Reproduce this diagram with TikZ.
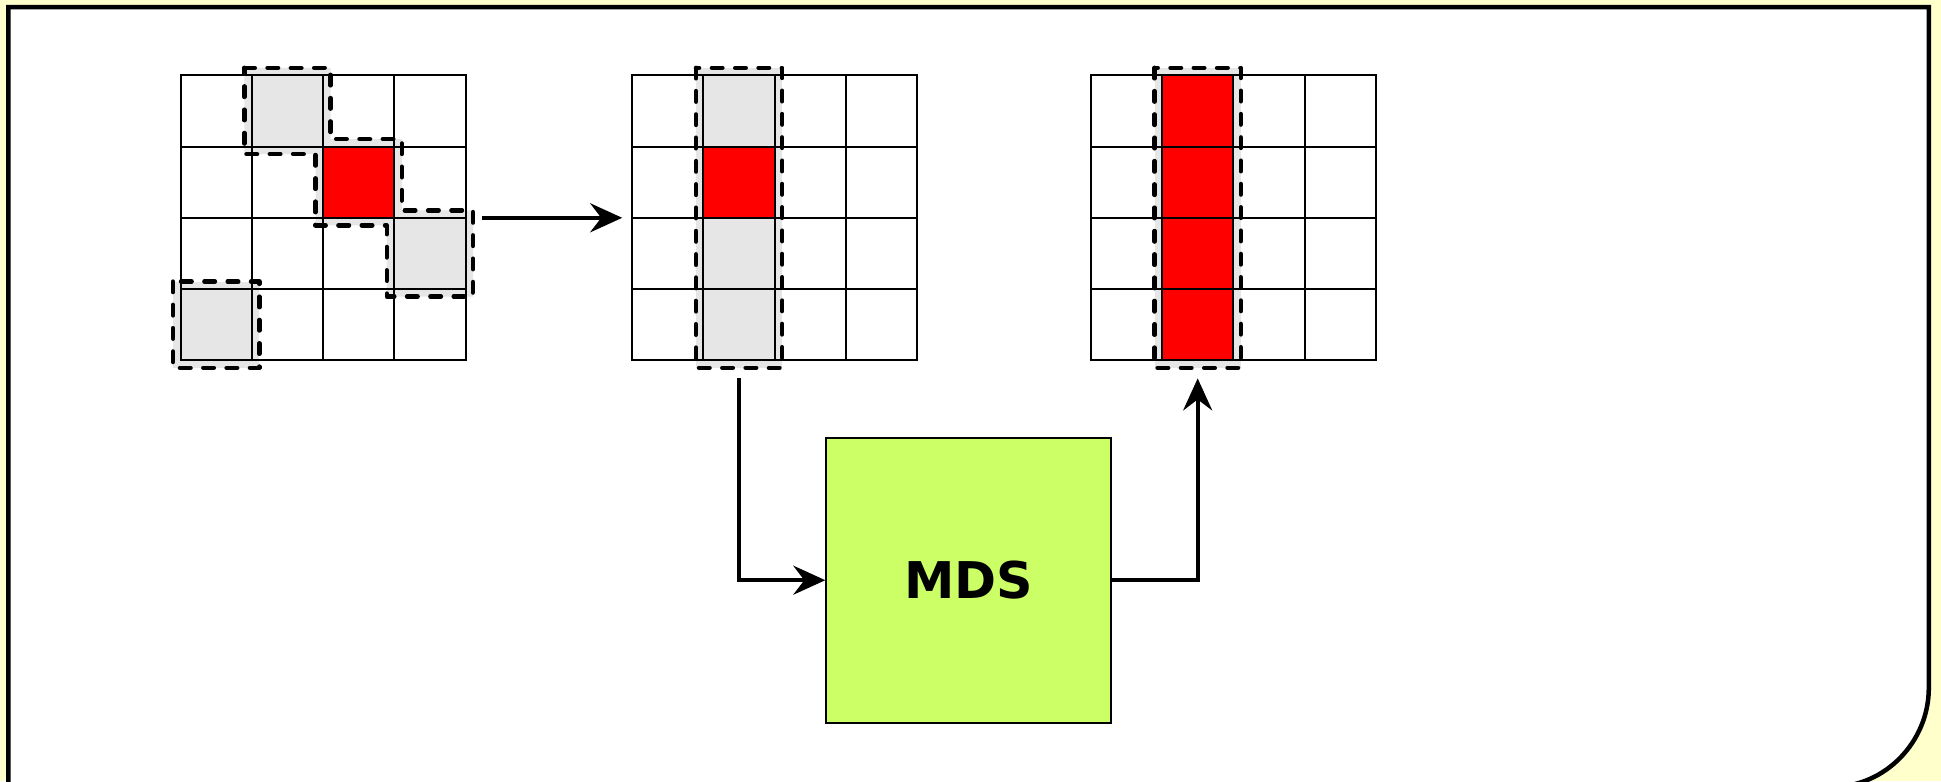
\documentclass[tikz,border=0pt]{standalone}
\usepackage{fontspec}
\setsansfont{DejaVu Sans}
\usepackage{xcolor}
\usetikzlibrary{arrows.meta, positioning, calc}
\definecolor{paper}{HTML}{FFFFCC}
\definecolor{halo}{HTML}{E6E6E6}
\definecolor{mdsgreen}{HTML}{CCFF66}

\begin{document}
\begin{tikzpicture}[x=0.01cm,y=-0.01cm]
\tikzset{
  gb/.style={rectangle,draw=black,fill=white,minimum size=2.85cm,inner sep=0pt},
  gl/.style={line width=0.02cm,draw=black,line cap=rect},
  hl/.style={fill=halo},
  sel/.style={draw=black,line width=0.045cm,line cap=round,line join=round,dash pattern=on 0.105cm off 0.128cm},
  ar/.style={-{Stealth[length=0.32cm,width=0.29cm,inset=0.11cm]},line width=0.04cm,draw=black},
  mb/.style={rectangle,draw=black,line width=0.02cm,fill=mdsgreen,minimum size=2.85cm,inner sep=0pt,font=\sffamily\bfseries\fontsize{14.4}{17}\selectfont}
}
\useasboundingbox (0,0) rectangle (1941,781);
\fill[paper] (0,0) rectangle (1941,781);
\filldraw[fill=white,draw=black,line width=0.045cm] (8.3,787) -- (8.3,7.2) -- (1928.8,7.2) -- (1928.8,688)
  .. controls (1928.8,741.6) and (1885.4,787) .. (1831.8,787) -- cycle;
% the three grids
\node[gb] (g1) at (323,217.8) {};
\node[gb] (g2) at (774.7,217.8) {};
\node[gb] (g3) at (1233.3,217.8) {};
% halo under the selections
\fill[hl] (244.25,67.8) -- (330.5,67.8) -- (330.5,139.05) -- (401.75,139.05) -- (401.75,210.3) -- (473,210.3)
  -- (473,296.55) -- (386.75,296.55) -- (386.75,225.3) -- (315.5,225.3) -- (315.5,154.05) -- (244.25,154.05) -- cycle;
\fill[hl] (173,281.55) rectangle (259.25,367.8);
\fill[hl] (695.95,67.8) rectangle (782.2,367.8);
\fill[hl] (1154.55,67.8) rectangle (1240.8,367.8);
% cells
\foreach \gx/\c/\r/\col in {180.5/1/0/halo,180.5/2/1/red,180.5/3/2/halo,180.5/0/3/halo,
  632.2/1/0/halo,632.2/1/1/red,632.2/1/2/halo,632.2/1/3/halo,
  1090.8/1/0/red,1090.8/1/1/red,1090.8/1/2/red,1090.8/1/3/red}{
  \fill[\col] (\gx+\c*71.25,75.3+\r*71.25) rectangle ++(71.25,71.25);
}
\foreach \gx in {180.5,632.2,1090.8}{
  \foreach \i in {0,...,4}{
    \draw[gl] (\gx+\i*71.25,75.3) -- ++(0,285);
    \draw[gl] (\gx,75.3+\i*71.25) -- ++(285,0);
  }
}
% dashed selections
\draw[sel] (244.25,67.8) -- (330.5,67.8) -- (330.5,139.05) -- (401.75,139.05) -- (401.75,210.3) -- (473,210.3)
  -- (473,296.55) -- (386.75,296.55) -- (386.75,225.3) -- (315.5,225.3) -- (315.5,154.05) -- (244.25,154.05) -- cycle;
\draw[sel] (173,281.55) rectangle (259.25,367.8);
\draw[sel] (695.95,67.8) rectangle (782.2,367.8);
\draw[sel] (1154.55,67.8) rectangle (1240.8,367.8);
\node[mb] (mds) at (968.9,580.2) {MDS};
\draw[ar,shorten <=0.16cm,shorten >=0.092cm] (g1.east) -- (g2.west);
\draw[ar,shorten <=0.173cm] ([xshift=-0.356cm]g2.south) |- (mds.west);
\draw[ar,shorten >=0.173cm] (mds.east) -| ([xshift=-0.356cm]g3.south);
\end{tikzpicture}
\end{document}
